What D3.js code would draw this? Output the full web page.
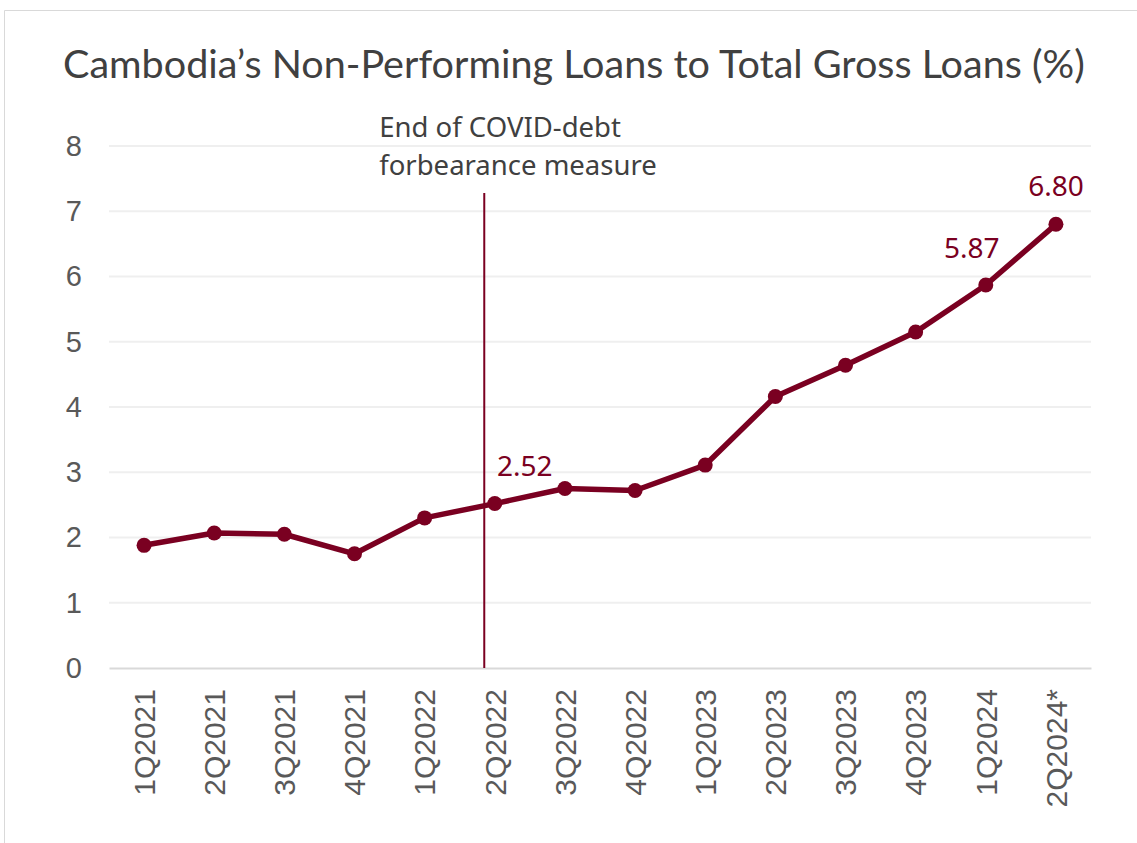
<!DOCTYPE html>
<html>
<head>
<meta charset="utf-8">
<script src="https://cdn.jsdelivr.net/npm/d3@7"></script>
<style>
  html, body { margin: 0; padding: 0; background: #fff; }
  svg { display: block; }
</style>
</head>
<body>
<div id="chart"></div>
<script>
// ---- data ----
const quarters = ["1Q2021", "2Q2021", "3Q2021", "4Q2021", "1Q2022", "2Q2022", "3Q2022",
  "4Q2022", "1Q2023", "2Q2023", "3Q2023", "4Q2023", "1Q2024", "2Q2024*"];
const nplRatio = [1.88, 2.07, 2.05, 1.75, 2.30, 2.52, 2.75, 2.72, 3.11, 4.16, 4.64, 5.15, 5.87, 6.80];
const labelled = ["2Q2022", "1Q2024", "2Q2024*"];
const yTicks = [0, 1, 2, 3, 4, 5, 6, 7, 8];
const titleText = "Cambodia\u2019s Non-Performing Loans to Total Gross Loans (%)";
const noteLines = ["End of COVID-debt", "forbearance measure"];
const noteAt = 4.85;   // quarter index where the forbearance line sits
const noteTop = 7.28;  // value where that line starts

const W = 1137, H = 843;
const margin = { top: 146, right: 46, bottom: 175, left: 109 };
const width = W - margin.left - margin.right;
const height = H - margin.top - margin.bottom;

const red = "#7a0021";
const grey = "#595959";
const textFont = "'Noto Sans', 'Open Sans', sans-serif";
const titleFont = "Lato, 'Noto Sans', sans-serif";
const tickFont = "'Liberation Sans', Arial, sans-serif";

const root = d3.select("#chart").append("svg")
  .attr("width", W)
  .attr("height", H);

// ----- frame -----
root.append("path")
  .attr("d", `M4.5,${H} V10.5 H${W}`)
  .attr("fill", "none")
  .attr("stroke", "#d9d9d9")
  .attr("stroke-width", 1);

const svg = root.append("g")
  .attr("transform", `translate(${margin.left},${margin.top})`);

// ----- scales -----
const x = d3.scaleBand()
  .domain(quarters)
  .range([0, width])
  .padding(0);

const xi = d3.scaleLinear()
  .domain([-0.5, quarters.length - 0.5])
  .range([0, width]);

const y = d3.scaleLinear()
  .domain([0, 8])
  .range([height, 0]);

const cx = q => x(q) + x.bandwidth() / 2;

// ----- gridlines -----
svg.append("g")
  .selectAll("line")
  .data(yTicks.filter(t => t > 0))
  .join("line")
  .attr("x1", 0)
  .attr("x2", width)
  .attr("y1", d => y(d))
  .attr("y2", d => y(d))
  .attr("stroke", "#efefef")
  .attr("stroke-width", 2);

// ----- Y axis -----
const yAxis = svg.append("g")
  .call(d3.axisLeft(y).tickValues(yTicks).tickSize(0).tickPadding(27));
yAxis.select(".domain").remove();
yAxis.selectAll("text")
  .style("font-family", tickFont)
  .style("font-size", "29px")
  .attr("fill", grey);

// ----- X axis -----
const xAxis = svg.append("g")
  .attr("transform", `translate(0,${height})`)
  .call(d3.axisBottom(x).tickSize(0).tickPadding(0));
xAxis.select(".domain")
  .attr("stroke", "#d9d9d9")
  .attr("stroke-width", 2);
xAxis.selectAll("text")
  .attr("transform", "rotate(-90)")
  .attr("x", -21)
  .attr("y", 0)
  .attr("dy", "0.36em")
  .style("text-anchor", "end")
  .style("font-family", tickFont)
  .style("font-size", "30px")
  .attr("fill", grey);

// ----- forbearance marker -----
svg.append("line")
  .attr("x1", xi(noteAt))
  .attr("x2", xi(noteAt))
  .attr("y1", y(noteTop))
  .attr("y2", height)
  .attr("stroke", red)
  .attr("stroke-width", 2);

svg.append("g")
  .selectAll("text")
  .data(noteLines)
  .join("text")
  .attr("x", xi(noteAt) - 105)
  .attr("y", (d, i) => -9 + i * 38)
  .style("font-family", textFont)
  .style("font-size", "27.5px")
  .attr("fill", "#404040")
  .text(d => d);

// ----- line + points -----
const series = quarters.map((q, i) => ({ q, v: nplRatio[i] }));

svg.append("path")
  .datum(series)
  .attr("fill", "none")
  .attr("stroke", red)
  .attr("stroke-width", 5.5)
  .attr("stroke-linejoin", "round")
  .attr("d", d3.line().x(d => cx(d.q)).y(d => y(d.v)));

svg.append("g")
  .selectAll("circle")
  .data(series)
  .join("circle")
  .attr("cx", d => cx(d.q))
  .attr("cy", d => y(d.v))
  .attr("r", 7.5)
  .attr("fill", red);

// ----- value labels -----
svg.append("g")
  .selectAll("text")
  .data(series.filter(d => labelled.includes(d.q)))
  .join("text")
  .attr("x", d => d.q === "2Q2022" ? cx(d.q) + 30 : cx(d.q))
  .attr("y", d => d.q === "1Q2024" ? y(d.v) - 27 : y(d.v) - 28)
  .attr("dx", d => d.q === "1Q2024" ? -14 : 0)
  .attr("text-anchor", "middle")
  .style("font-family", textFont)
  .style("font-size", "28px")
  .attr("fill", red)
  .text(d => d.v.toFixed(2));

// ----- title -----
const title = root.append("text")
  .attr("x", 63)
  .attr("y", 78)
  .style("font-family", titleFont)
  .style("font-size", "36px")
  .attr("fill", "#404040")
  .text(titleText);
const tw = title.node().getComputedTextLength();
title.style("font-size", (36 * 1022 / tw).toFixed(2) + "px");
</script>
</body>
</html>
